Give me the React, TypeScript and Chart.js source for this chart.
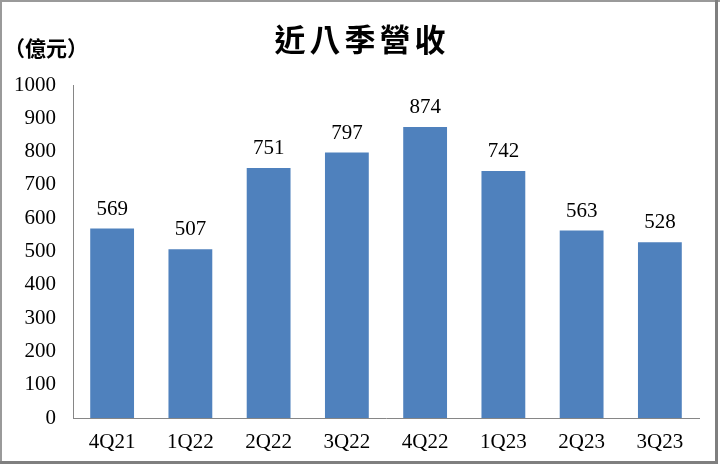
import { Chart, registerables } from "chart.js";
import type { Plugin } from "chart.js";
import { useEffect, useRef } from "react";

Chart.register(...registerables);

const quarters = ["4Q21", "1Q22", "2Q22", "3Q22", "4Q22", "1Q23", "2Q23", "3Q23"];
const revenue = [569, 507, 751, 797, 874, 742, 563, 528];
const yTicks = [0, 100, 200, 300, 400, 500, 600, 700, 800, 900, 1000];

const chartTitle = "近八季營收";
const unitLabel = "（億元）";

const barColor = "#4f81bd";
const axisColor = "#868686";
const numberFont = "'Liberation Serif', 'Times New Roman', serif";
const cjkFont = "'Noto Sans CJK TC', 'Noto Sans CJK SC', sans-serif";

const decorPlugin: Plugin<"bar"> = {
  id: "decor",
  afterDraw(chart) {
    const { ctx, width, height } = chart;
    ctx.save();

    // value labels above bars
    const meta = chart.getDatasetMeta(0);
    ctx.fillStyle = "#000";
    ctx.font = `21px ${numberFont}`;
    ctx.textAlign = "center";
    ctx.textBaseline = "alphabetic";
    meta.data.forEach((bar, i) => {
      ctx.fillText(String(revenue[i]), bar.x, bar.y - 14);
    });

    // title
    ctx.font = `bold 31px ${cjkFont}`;
    ctx.textBaseline = "middle";
    (ctx as any).letterSpacing = "4px";
    ctx.fillText(chartTitle, width / 2 + 2, 39);

    // unit
    (ctx as any).letterSpacing = "0px";
    ctx.font = `bold 21px ${cjkFont}`;
    ctx.textAlign = "left";
    ctx.fillText(unitLabel, 4, 48);

    // frame
    ctx.strokeStyle = "#9a9a9a";
    ctx.lineWidth = 2;
    ctx.beginPath();
    ctx.moveTo(1, height);
    ctx.lineTo(1, 1);
    ctx.lineTo(width, 1);
    ctx.stroke();
    ctx.strokeStyle = "#7f7f7f";
    ctx.lineWidth = 3;
    ctx.beginPath();
    ctx.moveTo(width - 3.5, 0);
    ctx.lineTo(width - 3.5, height - 1.5);
    ctx.lineTo(0, height - 1.5);
    ctx.stroke();

    ctx.restore();
  },
};

export default function App() {
  const canvasRef = useRef<HTMLCanvasElement | null>(null);

  useEffect(() => {
    const canvas = canvasRef.current;
    if (!canvas) return;

    const chart = new Chart(canvas, {
      type: "bar",
      data: {
        labels: quarters,
        datasets: [
          {
            data: revenue,
            backgroundColor: barColor,
            borderWidth: 0,
            barPercentage: 0.56,
            categoryPercentage: 1,
          },
        ],
      },
      options: {
        animation: false,
        responsive: false,
        devicePixelRatio: 1,
        layout: {
          padding: { top: 85, left: 10, right: 21, bottom: 0 },
        },
        plugins: {
          legend: { display: false },
          title: { display: false },
          tooltip: { enabled: false },
        },
        scales: {
          x: {
            grid: { display: false, drawTicks: false },
            border: { display: true, color: axisColor, width: 1 },
            ticks: {
              color: "#000",
              font: { family: numberFont, size: 21 },
              padding: 12,
            },
            afterFit(scale) {
              scale.height = 46;
            },
          },
          y: {
            min: 0,
            max: 1000,
            afterBuildTicks(scale) {
              scale.ticks = yTicks.map((value) => ({ value }));
            },
            grid: { display: false, drawTicks: false },
            border: { display: true, color: axisColor, width: 1 },
            ticks: {
              color: "#000",
              font: { family: numberFont, size: 21 },
              padding: 17,
              callback(value) {
                return String(value);
              },
            },
            afterFit(scale) {
              scale.width = 63;
            },
          },
        },
      },
      plugins: [decorPlugin],
    });

    return () => {
      chart.destroy();
    };
  }, []);

  return (
    <div style={{ position: "fixed", left: 0, top: 0, width: 720, height: 464, background: "#fff" }}>
      <canvas ref={canvasRef} width={720} height={464} style={{ display: "block" }} />
    </div>
  );
}
